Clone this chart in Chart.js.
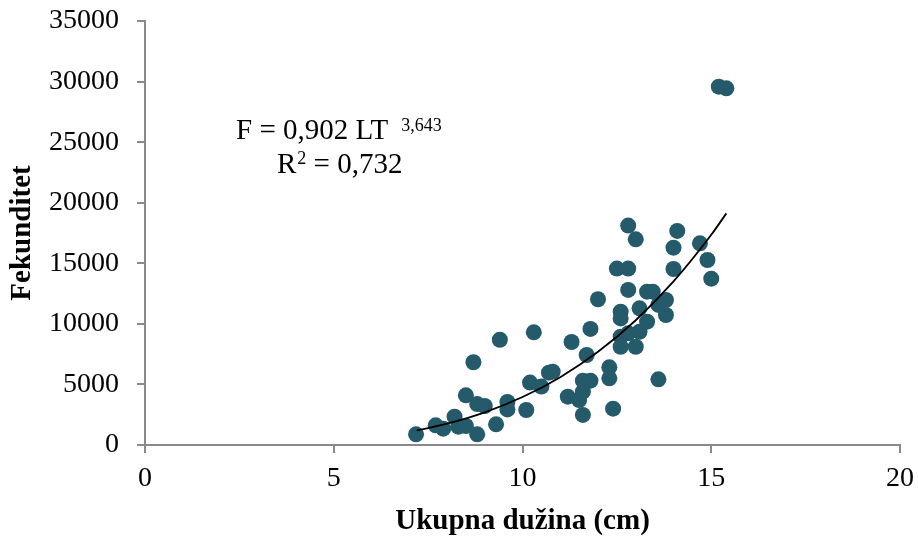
<!DOCTYPE html>
<html>
<head>
<meta charset="utf-8">
<script src="https://cdn.jsdelivr.net/npm/chart.js@4/dist/chart.umd.min.js"></script>
<style>
  html, body { margin:0; padding:0; background:#fff; }
  #wrap { width:918px; height:541px; }
</style>
</head>
<body>
<div id="wrap"><canvas id="chart" width="918" height="541"></canvas></div>
<script>
// ukupna duzina (cm) / fekunditet
var lengthCm = [7.18, 7.7, 7.9, 8.2, 8.3, 8.5, 8.5, 8.7, 8.8, 8.8, 9.0, 9.3, 9.4, 9.6, 9.6,
  10.1, 10.2, 10.3, 10.5, 10.7, 10.8, 11.2, 11.3, 11.5, 11.6, 11.6, 11.6, 11.8, 11.7, 11.8,
  12.0, 12.3, 12.3, 12.4, 12.5, 12.8, 12.8, 13.0, 12.8, 12.6, 12.6, 12.6, 12.6, 12.8, 13.0,
  13.1, 13.1, 13.3, 13.3, 13.45, 13.6, 13.6, 13.8, 13.8, 14.0, 14.0, 14.1, 14.7, 14.9, 15.0,
  15.2, 15.4];
var fecundity = [880, 1620, 1350, 2340, 1510, 1570, 4100, 6830, 880, 3380, 3220, 1710, 8690, 3550, 2940,
  2890, 5150, 9300, 4820, 5970, 6050, 3990, 8500, 3710, 4400, 2480, 5310, 5310, 7430, 9580,
  12030, 6410, 5500, 3000, 14560, 14560, 18110, 16980, 12800, 11000, 10450, 8940, 8110, 9220, 8110,
  11280, 9350, 10180, 12660, 12660, 5420, 11560, 11970, 10730, 14530, 16290, 17670, 16650, 15270, 13730,
  29580, 29440];

// power trend line
var trendX = [7.2, 8, 9, 10, 11, 12, 13, 14, 15, 15.4];
var trendY = [1200, 1760, 2700, 3960, 5600, 7690, 10300, 13500, 17350, 19120];

var xTicks = [0, 5, 10, 15, 20];
var yMax = 35000;
var yStep = 5000;

var eqLine1 = 'F = 0,902 LT';
var eqExp = '3,643';
var eqLine2 = ' = 0,732';

var serif = 'Liberation Serif';
var axisGray = '#8a8a8a';
var dotColor = '#245a69';

function toPoints(xs, ys){
  var pts = [];
  for (var i = 0; i < xs.length; i++) {
    pts.push({x: xs[i], y: ys[i]});
  }
  return pts;
}

// equation text, drawn like the excel trendline label
var equationPlugin = {
  id: 'equation',
  afterDatasetsDraw: function(chart){
    var ctx = chart.ctx;
    ctx.save();
    ctx.fillStyle = '#000';
    ctx.textBaseline = 'alphabetic';
    ctx.textAlign = 'left';
    ctx.font = '29px "' + serif + '"';
    var x1 = 236, y1 = 139;
    ctx.fillText(eqLine1, x1, y1);
    var w1 = ctx.measureText(eqLine1).width;
    ctx.font = '18px "' + serif + '"';
    ctx.fillText(eqExp, x1 + w1 + 13, y1 - 8);

    ctx.font = '29px "' + serif + '"';
    var x2 = 277, y2 = 173;
    ctx.fillText('R', x2, y2);
    var wr = ctx.measureText('R').width;
    ctx.font = '18px "' + serif + '"';
    ctx.fillText('2', x2 + wr + 1, y2 - 9);
    var w2 = ctx.measureText('2').width;
    ctx.font = '29px "' + serif + '"';
    ctx.fillText(eqLine2, x2 + wr + w2 + 1, y2);
    ctx.restore();
  }
};

var ctx = document.getElementById('chart').getContext('2d');
var chart = new Chart(ctx, {
  type: 'scatter',
  data: {
    datasets: [
      {
        label: 'trend',
        type: 'line',
        data: toPoints(trendX, trendY),
        showLine: true,
        borderColor: '#000',
        borderWidth: 1.8,
        pointRadius: 0,
        fill: false,
        cubicInterpolationMode: 'monotone',
        order: 0
      },
      {
        label: 'Fekunditet',
        data: toPoints(lengthCm, fecundity),
        backgroundColor: dotColor,
        borderColor: dotColor,
        borderWidth: 0,
        pointRadius: 8,
        order: 1
      }
    ]
  },
  options: {
    responsive: false,
    animation: false,
    layout: { padding: { top: 21, right: 18, left: 0, bottom: 0 } },
    plugins: {
      legend: { display: false },
      tooltip: { enabled: false }
    },
    scales: {
      x: {
        type: 'linear',
        min: 0,
        max: 20,
        afterBuildTicks: function(scale){
          scale.ticks = xTicks.map(function(v){ return {value: v}; });
        },
        afterFit: function(scale){
          scale.height = 96;
          scale.paddingLeft = 0;
          scale.paddingRight = 0;
        },
        grid: { drawOnChartArea: false, drawTicks: true, tickLength: 8, color: axisGray, lineWidth: 2 },
        border: { color: axisGray, width: 2 },
        ticks: {
          color: '#000',
          padding: 9,
          maxRotation: 0,
          font: { family: serif, size: 28 },
          callback: function(v){ return String(v); }
        },
        title: {
          display: true,
          text: 'Ukupna dužina (cm)',
          color: '#000',
          font: { family: serif, size: 29, weight: 'bold' },
          padding: { top: 0, bottom: 2 }
        }
      },
      y: {
        type: 'linear',
        min: 0,
        max: yMax,
        afterFit: function(scale){
          scale.width = 145;
          scale.paddingTop = 0;
          scale.paddingBottom = 0;
        },
        grid: { drawOnChartArea: false, drawTicks: true, tickLength: 8, color: axisGray, lineWidth: 2 },
        border: { color: axisGray, width: 2 },
        ticks: {
          stepSize: yStep,
          color: '#000',
          padding: 18,
          font: { family: serif, size: 28 },
          callback: function(v){ return String(v); }
        },
        title: {
          display: true,
          text: 'Fekunditet',
          color: '#000',
          font: { family: serif, size: 29, weight: 'bold' },
          padding: { top: 5, bottom: 0 }
        }
      }
    }
  },
  plugins: [equationPlugin]
});
</script>
</body>
</html>
